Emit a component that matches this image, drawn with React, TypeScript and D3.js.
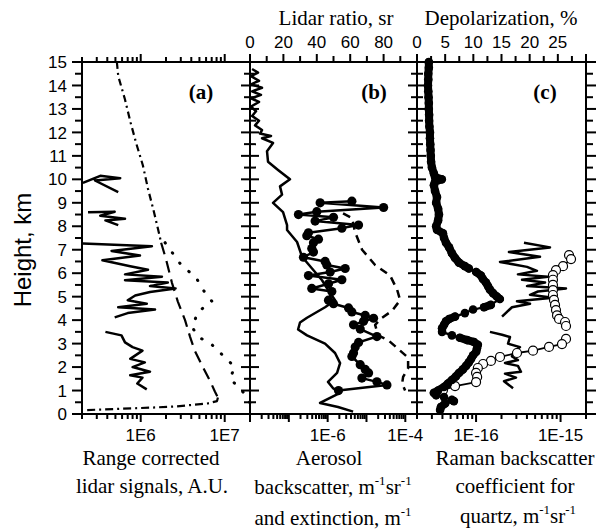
import React from "react";
import * as d3 from "d3";

// panel (a): range corrected lidar signals vs height (NaN = gap in the trace)
const rcsSolidH = [9.85, 10.15, 10.05, 9.95, 9.45, NaN, 8.6, 8.62, 8.45, 8.32, 8.25, 8.05, NaN,
  7.27, 7.15, 6.95, 6.75, 6.55, 6.3, 6.15, 5.95, 5.85, 5.7, 5.6, 5.45, 5.35, 5.2, 5.05, 4.85, 4.7, 4.55, 4.45, 4.3, 4.12, NaN,
  3.5, 3.35, 3.05, 2.85, 2.7, 2.35, 2.2, 2.0, 1.8, 1.65, 1.55, 1.3, 1.05];
const rcsSolid = [2.05e5, 3.3e5, 5.7e5, 2.85e5, 5.4e5, NaN, 2.36e5, 4.9e5, 3.3e5, 6.5e5, 3.8e5, 5.4e5, NaN,
  2.05e5, 1.36e6, 4.5e5, 9.8e5, 3.5e5, 7.5e5, 1.22e6, 6.5e5, 1.79e6, 6.5e5, 2.1e6, 1.29e6, 2.6e6, 1.29e6, 8.6e5, 7.0e5, 1.18e6, 5.4e5, 1.48e6, 7.0e5, 4.9e5, NaN,
  3.8e5, 5.9e5, 6.5e5, 8.0e5, 1.05e6, 7.5e5, 1.12e6, 8.0e5, 1.29e6, 7.5e5, 1.05e6, 9.1e5, 1.18e6];
const rcsFarH = [15.0, 14.4, 13.4, 12.4, 11.5, 10.6, 9.6, 8.6, 7.7, 7.3];
const rcsFar = [5.2e5, 5.4e5, 6.5e5, 7.6e5, 8.9e5, 1.06e6, 1.22e6, 1.44e6, 1.65e6, 1.75e6];
const rcsMidH = [7.3, 6.6, 5.6, 4.8, 4.0, 3.3, 2.7, 2.0, 1.4, 0.95, 0.7];
const rcsMid = [1.75e6, 2.0e6, 2.35e6, 2.76e6, 3.37e6, 3.86e6, 4.4e6, 5.5e6, 6.7e6, 7.66e6, 8.3e6];
const rcsNearH = [0.7, 0.55, 0.45, 0.38, 0.32, 0.27, 0.22, 0.19, 0.16];
const rcsNear = [8.3e6, 8.1e6, 6.3e6, 3.9e6, 2.6e6, 1.3e6, 5.7e5, 3.3e5, 2.17e5];
const rcsDotH = [7.3, 6.3, 5.85, 5.3, 4.8, 4.35, 3.7, 3.3, 2.95, 2.5, 2.0, 1.5, 1.1, 0.72, 0.47];
const rcsDot = [1.95e6, 3.1e6, 4.5e6, 5.5e6, 7.05e6, 4.8e6, 4.1e6, 4.8e6, 7.05e6, 9.5e6, 1.32e7, 1.15e7, 1.52e7, 1.84e7, 2.0e7];

// panel (b): aerosol backscatter (solid), extinction (dashed), lidar ratio (dots)
const bscH = [14.7, 14.55, 14.4, 14.2, 14.05, 13.9, 13.75, 13.6, 13.45, 13.3, 13.1, 12.9, 12.7, 12.5, 12.3, 12.1, 11.95, 11.85, 11.75,
  11.55, 11.2, 10.75, 10.4, 10.0, 9.7, 9.35, 9.0, 8.6, 8.05, 7.84, 7.33, 6.7, 6.2, 5.7, 5.35, 4.85, 4.55, 4.1, 3.9, 3.6, 3.35,
  3.0, 2.6, 2.17, 1.75, 1.37, 1.1, 0.9, 0.47, 0.3, 0.1];
const bsc = [1.13e-8, 1.61e-8, 1.06e-8, 1.71e-8, 1.06e-8, 2.04e-8, 1.13e-8, 1.92e-8, 1.06e-8, 1.71e-8, 1.06e-8, 1.43e-8, 1.13e-8,
  1.71e-8, 1.35e-8, 2.04e-8, 1.81e-8, 3.48e-8, 2.04e-8, 3.92e-8, 2.74e-8, 2.91e-8, 5.27e-8, 1.07e-7, 5.93e-8, 6.68e-8, 3.92e-8,
  7.1e-8, 9.0e-8, 9.0e-8, 1.63e-7, 2.19e-7, 3.96e-7, 7.17e-7, 9.66e-7, 1.55e-6, 8.57e-7, 2.94e-7, 1.94e-7, 1.73e-7, 2.94e-7,
  8.57e-7, 1.55e-6, 2.09e-6, 1.75e-6, 1.02e-6, 1.38e-6, 2.09e-6, 6.37e-7, 1.85e-6, 4.52e-6];
const extH = [8.55, 8.35, 7.75, 7.0, 6.35, 5.9, 5.3, 4.85, 4.4, 4.1, 3.8, 3.35, 3.15, 2.7, 2.4, 1.95, 1.58, 1.3, 1.0];
const ext = [2.49e-6, 4.25e-6, 5.08e-6, 7.7e-6, 1.67e-5, 4.06e-5, 6.15e-5, 7.35e-5, 4.57e-5, 2.52e-5, 1.67e-5, 1.99e-5, 3.6e-5,
  7.35e-5, 1.18e-4, 1.18e-4, 8.78e-5, 8.28e-5, 9.88e-5];
const lrH = [9.07, 9.0, 8.8, 8.62, 8.5, 8.38, 8.22, 8.05, 7.92, 7.72, 7.6, 7.45, 7.3, 7.05, 6.9, 6.68, 6.5, 6.35, 6.2, 6.05, 5.9,
  5.72, 5.55, 5.35, 5.22, 4.85, 4.7, 4.52, 4.35, 4.2, 4.08, 3.95, 3.8, 3.62, 3.3, 3.05, 2.85, 2.6, 2.45, 2.1, 1.9, 1.75, 1.53, 1.37, 1.24, 1.0];
const lr = [61, 42, 80, 40, 29, 50, 39, 65, 55, 35, 34, 41, 38, 37, 38, 32, 45, 46, 57, 48, 35, 55, 47, 37, 49, 47, 50, 59, 61, 69,
  74, 68, 62, 66, 76, 65, 63, 62, 61, 66, 69, 71, 67, 76, 82, 53];

// panel (c): depolarization (dots), quartz Raman backscatter (open circles, solid)
const depH = [15.0, 14.75, 14.5, 14.25, 14.0, 13.75, 13.5, 13.25, 13.0, 12.75, 12.5, 12.25, 12.0, 11.75, 11.5, 11.25, 11.0, 10.75,
  10.5, 10.25, 10.1, 10.0, 9.9, 9.75, 9.5, 9.25, 9.0, 8.75, 8.5, 8.25, 8.0, 7.85, 7.7, 7.5, 7.3, 7.1, 6.85, 6.65, 6.45, 6.3, 6.2,
  6.05, 5.9, 5.75, 5.6, 5.45, 5.3, 5.15, 5.0, 4.9, 4.65, 4.55, 4.45, 4.3, 4.15, 4.05, 3.95, 3.8, 3.65, 3.5, 3.35, 3.25, 3.15, 3.07,
  2.95, 2.8, 2.65, 2.5, 2.35, 2.2, 2.05, 1.9, 1.75, 1.6, 1.45, 1.3, 1.15, 1.0, 0.9, 0.8, 0.72, 0.6, 0.55, 0.45, 0.3, 0.17];
const dep = [2.1, 2.1, 2.0, 2.0, 1.95, 2.0, 2.05, 2.1, 2.1, 2.15, 2.15, 2.2, 2.3, 2.3, 2.35, 2.4, 2.45, 2.5, 2.65, 3.0, 3.2, 4.4,
  3.2, 3.0, 3.2, 3.55, 3.4, 3.75, 3.9, 3.75, 3.4, 3.55, 4.6, 4.8, 5.15, 5.7, 6.2, 6.75, 7.45, 8.5, 9.2, 10.5, 11.35, 11.7, 12.25,
  12.6, 12.95, 13.5, 14.2, 14.7, 13.1, 11.9, 9.95, 8.5, 6.75, 5.7, 5.15, 4.8, 4.45, 4.45, 6.2, 7.6, 8.9, 10.1, 10.8, 10.65, 10.5,
  9.95, 9.6, 9.2, 8.7, 8.15, 7.45, 6.9, 6.2, 5.5, 4.8, 3.75, 3.0, 3.4, 4.8, 6.2, 6.55, 5.0, 4.25, 4.1];
const qzOpenH = [6.77, 6.6, 6.3, 6.13, 5.92, 5.72, 5.5, 5.28, 5.07, 4.86, 4.65, 4.43, 4.2, 4.05, 3.92, 3.75, NaN,
  3.2, 2.98, 2.86, 2.7, 2.6, 2.43, 2.26, 2.13, 1.96, 1.75, 1.58, 1.36, 1.19, 1.02];
const qzOpen = [1.26e-15, 1.33e-15, 1.07e-15, 8.83e-16, 8.13e-16, 8.13e-16, 8.13e-16, 8.13e-16, 8.13e-16, 8.36e-16, 8.6e-16,
  8.83e-16, 9.08e-16, 9.59e-16, 1.13e-15, 1.16e-15, NaN,
  1.16e-15, 1.04e-15, 7.3e-16, 4.72e-16, 3.05e-16, 1.92e-16, 1.5e-16, 1.21e-16, 1.05e-16, 1.0e-16, 1.03e-16, 1.0e-16, 5.64e-17, 4.06e-17];
const qzSolidH = [7.3, 7.1, 6.9, 6.7, 6.48, 6.27, 6.1, 5.95, 5.85, 5.72, 5.6, 5.45, 5.35, 5.22, 5.08, 4.95, 4.8, 4.7, 4.55, 4.15, NaN,
  3.5, 3.38, 3.28, 3.0, 2.85, 2.65, 2.45, 2.3, 2.17, 2.05, 1.8, 1.72, 1.55, 1.4, 1.1];
const qzSolid = [3.69e-16, 7.5e-16, 2.45e-16, 5.71e-16, 1.92e-16, 4.01e-16, 5.26e-16, 3.13e-16, 7.1e-16, 3.5e-16, 6.55e-16, 4.01e-16,
  1.16e-15, 5.41e-16, 4.35e-16, 8.13e-16, 3.05e-16, 4.35e-16, 2.66e-16, 2.03e-16, NaN,
  1.46e-16, 2.03e-16, 2.52e-16, 2.39e-16, 3.31e-16, 2.81e-16, 2.66e-16, 3.13e-16, 2.2e-16, 3.13e-16, 3.4e-16, 2.2e-16, 2.97e-16, 2.14e-16, 2.74e-16];

// tick labels
const heightLabels = d3.range(0, 16, 1);
const aBottomLabels = [1e6, 1e7];
const bBottomLabels = [1e-6, 1e-4];
const cBottomLabels = [1e-16, 1e-15];
const lrLabels = [0, 20, 40, 60, 80];
const depLabels = [0, 5, 10, 15, 20, 25];

const sans = "'Liberation Sans', Arial, sans-serif";
const serif = "'Liberation Serif', 'Times New Roman', serif";

const TOP = 62, BOT = 414;
const y = d3.scaleLinear().domain([0, 15]).range([BOT, TOP]);
const xA = d3.scaleLog().domain([2e5, 2e7]).range([82, 250]);
const xB = d3.scaleLog().domain([1e-8, 2e-4]).range([250, 417]);
const xBt = d3.scaleLinear().domain([0, 100]).range([250, 417]);
const xC = d3.scaleLog().domain([2e-17, 2e-15]).range([417, 586]);
const xCt = d3.scaleLinear().domain([0, 30]).range([417, 586]);

function trace(hs: number[], vs: number[], x: (v: number) => number) {
  return d3.line<number>()
    .defined((i) => Number.isFinite(vs[i]) && Number.isFinite(hs[i]))
    .x((i) => x(vs[i]))
    .y((i) => y(hs[i]))(d3.range(vs.length)) || "";
}

// where consecutive markers overlap, they read as one thick band
function band(hs: number[], vs: number[], x: (v: number) => number, gap: number) {
  let d = "";
  for (let i = 1; i < vs.length; i++) {
    const x0 = x(vs[i - 1]), y0 = y(hs[i - 1]), x1 = x(vs[i]), y1 = y(hs[i]);
    if (Math.hypot(x1 - x0, y1 - y0) < gap) d += `M${x0},${y0}L${x1},${y1}`;
  }
  return d;
}

const isDecade = (v: number) => Math.abs(Math.log10(v) - Math.round(Math.log10(v))) < 1e-6;
const expLabel = (v: number) => "1E" + Math.round(Math.log10(v));

function logTicks(scale: any, key: string) {
  return scale.ticks().map((t: number, i: number) => {
    const x = scale(t);
    const big = isDecade(t);
    return (
      <g key={key + i}>
        <line x1={x} x2={x} y1={BOT} y2={BOT + (big ? 8 : 5)} />
        <line x1={x} x2={x} y1={TOP} y2={TOP - (big ? 8 : 5)} />
      </g>
    );
  });
}

function vTicks(x0: number, mode: string, key: string) {
  return d3.range(0, 30.5, 1).map((k) => {
    const h = k / 2;
    const big = k % 2 === 0;
    const L = big ? 10 : 7;
    const C = big ? 9 : 6;
    const yy = y(h);
    let x1 = x0, x2 = x0;
    if (mode === "left") { x1 = x0 - L; }
    else if (mode === "right") { x2 = x0 + L; }
    else { x1 = x0 - C; x2 = x0 + C; }
    return <line key={key + k} x1={x1} x2={x2} y1={yy} y2={yy} />;
  });
}

export default function App() {
  const dots = (hs: number[], vs: number[], x: (v: number) => number, r: number, fill: string, sw: number) =>
    vs.map((v, i) => Number.isFinite(v) ? (
      <circle key={i} cx={x(v)} cy={y(hs[i])} r={r} fill={fill} stroke="#000" strokeWidth={sw} />
    ) : null);

  return (
    <svg width={598} height={532} style={{ position: "absolute", left: 0, top: 0, background: "#fff" }}>
      {/* data, panel a */}
      <g fill="none" stroke="#000" strokeLinejoin="round">
        <path d={trace(rcsSolidH, rcsSolid, xA)} strokeWidth={2.5} />
        <path d={trace(rcsFarH, rcsFar, xA)} strokeWidth={2.2} strokeDasharray="7 4 2 4" />
        <path d={trace(rcsMidH, rcsMid, xA)} strokeWidth={2.2} strokeDasharray="12 7" />
        <path d={trace(rcsNearH, rcsNear, xA)} strokeWidth={2.2} strokeDasharray="8 4 2 4" />
        <path d={trace(rcsDotH, rcsDot, xA)} strokeWidth={3} strokeDasharray="0.5 12" strokeLinecap="round" />
      </g>
      {/* data, panel b */}
      <g fill="none" stroke="#000" strokeLinejoin="round">
        <path d={trace(bscH, bsc, xB)} strokeWidth={2.5} />
        <path d={trace(extH, ext, xB)} strokeWidth={2.5} strokeDasharray="8 6" />
        <path d={trace(lrH, lr, xBt)} strokeWidth={2.5} />
      </g>
      {dots(lrH, lr, xBt, 4.6, "#000", 0)}
      {/* data, panel c */}
      <g fill="none" stroke="#000" strokeLinejoin="round">
        <path d={trace(qzSolidH, qzSolid, xC)} strokeWidth={2.5} />
        <path d={trace(qzOpenH, qzOpen, xC)} strokeWidth={1.8} />
        <path d={trace(depH, dep, xCt)} strokeWidth={2.2} />
        <path d={band(depH, dep, xCt, 8)} strokeWidth={8} strokeLinecap="round" />
      </g>
      {dots(qzOpenH, qzOpen, xC, 4.5, "#fff", 1.2)}
      {dots(depH, dep, xCt, 4.3, "#000", 0)}

      {/* frames and ticks */}
      <g stroke="#000" strokeWidth={2} fill="none">
        <rect x={82} y={TOP} width={504} height={BOT - TOP} />
        <line x1={250} x2={250} y1={TOP} y2={BOT} />
        <line x1={417} x2={417} y1={TOP} y2={BOT} />
        {vTicks(82, "left", "va")}
        {vTicks(250, "both", "vb")}
        {vTicks(417, "both", "vc")}
        {vTicks(586, "right", "vd")}
        {logTicks(xA, "a")}
        {xB.ticks().map((t: number, i: number) => (
          <line key={"bb" + i} x1={xB(t)} x2={xB(t)} y1={BOT} y2={BOT + (isDecade(t) ? 8 : 5)} />
        ))}
        {xC.ticks().map((t: number, i: number) => (
          <line key={"cb" + i} x1={xC(t)} x2={xC(t)} y1={BOT} y2={BOT + (isDecade(t) ? 8 : 5)} />
        ))}
        {d3.range(0, 101, 10).map((t) => (
          <line key={"bt" + t} x1={xBt(t)} x2={xBt(t)} y1={TOP} y2={TOP - (t % 20 === 0 ? 8 : 6)} />
        ))}
        {d3.range(0, 30.1, 2.5).map((t) => (
          <line key={"ct" + t} x1={xCt(t)} x2={xCt(t)} y1={TOP} y2={TOP - (t % 5 === 0 ? 8 : 6)} />
        ))}
      </g>

      {/* tick labels */}
      <g fontFamily={sans} fontSize={17} fill="#000">
        {heightLabels.map((h) => (
          <text key={"h" + h} x={67} y={y(h)} dy="0.36em" textAnchor="end">{h}</text>
        ))}
        {aBottomLabels.map((v) => (
          <text key={"ab" + v} x={xA(v)} y={441} textAnchor="middle">{expLabel(v)}</text>
        ))}
        {bBottomLabels.map((v) => (
          <text key={"bb" + v} x={xB(v)} y={441} textAnchor="middle">{expLabel(v)}</text>
        ))}
        {cBottomLabels.map((v) => (
          <text key={"cb" + v} x={xC(v)} y={441} textAnchor="middle">{expLabel(v)}</text>
        ))}
        {lrLabels.map((v) => (
          <text key={"lr" + v} x={xBt(v)} y={48} textAnchor="middle">{v}</text>
        ))}
        {depLabels.map((v) => (
          <text key={"dp" + v} x={xCt(v)} y={48} textAnchor="middle">{v}</text>
        ))}
      </g>

      {/* axis titles */}
      <text transform="translate(31,250) rotate(-90)" fontFamily={sans} fontSize={24} textAnchor="middle">Height, km</text>
      <g fontFamily={serif} fontSize={21} textAnchor="middle" fill="#000">
        <text x={336} y={25}>Lidar ratio, sr</text>
        <text x={501} y={25}>Depolarization, %</text>
        <text x={151} y={465}>Range corrected</text>
        <text x={152} y={493}>lidar signals, A.U.</text>
        <text x={329} y={465}>Aerosol</text>
        <text x={333} y={494}>backscatter, m<tspan dy={-9} fontSize={13}>-1</tspan><tspan dy={9}>sr</tspan><tspan dy={-9} fontSize={13}>-1</tspan></text>
        <text x={333} y={525}>and extinction, m<tspan dy={-9} fontSize={13}>-1</tspan></text>
        <text x={515} y={465}>Raman backscatter</text>
        <text x={515} y={493}>coefficient for</text>
        <text x={518} y={523}>quartz, m<tspan dy={-9} fontSize={13}>-1</tspan><tspan dy={9}>sr</tspan><tspan dy={-9} fontSize={13}>-1</tspan></text>
      </g>
      <g fontFamily={serif} fontSize={21} fontWeight="bold" textAnchor="middle">
        <text x={201} y={99}>(a)</text>
        <text x={374} y={99}>(b)</text>
        <text x={545} y={99}>(c)</text>
      </g>
    </svg>
  );
}
